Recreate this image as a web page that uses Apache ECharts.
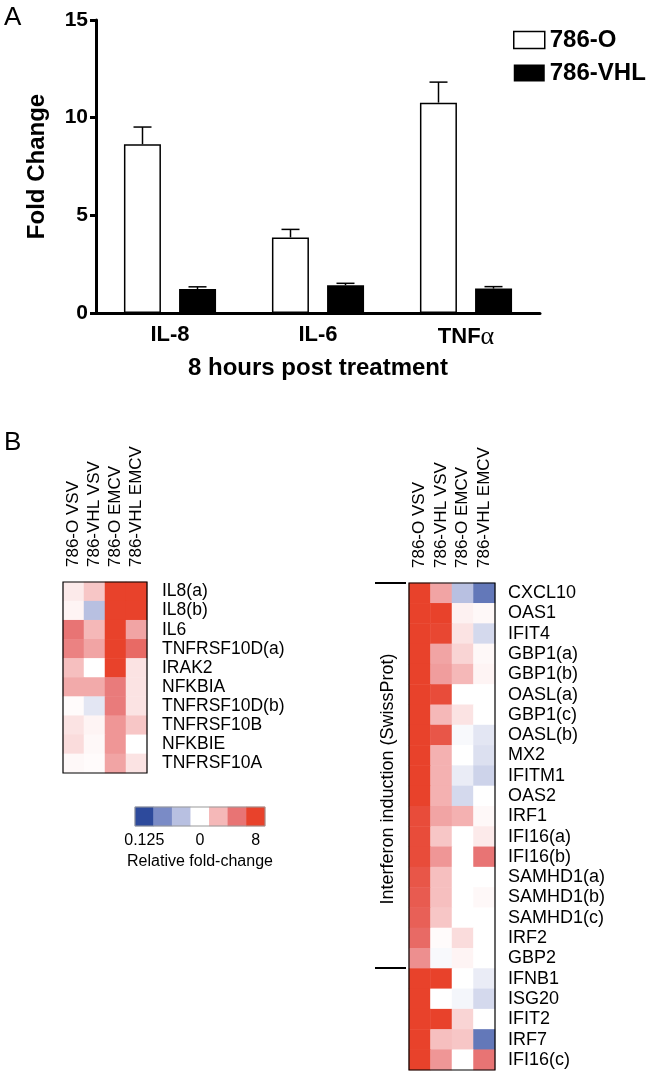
<!DOCTYPE html>
<html><head><meta charset="utf-8">
<script src="https://cdn.jsdelivr.net/npm/echarts@6/dist/echarts.min.js"></script>
<style>html,body{margin:0;padding:0;background:#fff}#c{width:650px;height:1074px}</style>
</head><body><div id="c"></div>
<script>
// ---- Panel A data ----
const barCategories = ['IL-8', 'IL-6', 'TNFα'];
const series786O = [8.64, 3.87, 10.77];
const err786O = [9.52, 4.28, 11.82];
const series786VHL = [1.23, 1.42, 1.25];
const err786VHL = [1.34, 1.52, 1.35];
const yTicks = [0, 5, 10, 15];

// ---- Panel B data (log2 relative fold-change, -3 = 0.125, 3 = 8) ----
const heatColumns = ['786-O VSV', '786-VHL VSV', '786-O EMCV', '786-VHL EMCV'];
const leftGenes = ['IL8(a)', 'IL8(b)', 'IL6', 'TNFRSF10D(a)', 'IRAK2', 'NFKBIA', 'TNFRSF10D(b)', 'TNFRSF10B', 'NFKBIE', 'TNFRSF10A'];
const leftValues = [
  [0.3, 0.8, 3, 3],
  [0.15, -1.0, 3, 3],
  [2.0, 1.0, 3, 1.3],
  [1.8, 1.3, 3, 2.2],
  [0.9, 0, 3, 0.4],
  [1.2, 1.2, 1.9, 0.4],
  [0.05, -0.4, 1.9, 0.4],
  [0.4, 0.15, 1.5, 0.8],
  [0.5, 0.1, 1.5, 0],
  [0.1, 0.05, 1.3, 0.4]
];
const rightGenes = ['CXCL10', 'OAS1', 'IFIT4', 'GBP1(a)', 'GBP1(b)', 'OASL(a)', 'GBP1(c)', 'OASL(b)', 'MX2', 'IFITM1', 'OAS2', 'IRF1', 'IFI16(a)', 'IFI16(b)', 'SAMHD1(a)', 'SAMHD1(b)', 'SAMHD1(c)', 'IRF2', 'GBP2', 'IFNB1', 'ISG20', 'IFIT2', 'IRF7', 'IFI16(c)'];
const rightValues = [
  [3, 1.3, -1.0, -2.3],
  [3, 3, 0.2, 0.1],
  [3, 2.9, 0.4, -0.6],
  [3, 1.3, 0.6, 0.1],
  [3, 1.4, 1.0, 0.15],
  [3, 2.8, 0, 0],
  [3, 1.0, 0.4, 0],
  [3, 2.6, -0.1, -0.4],
  [3, 1.1, 0, -0.5],
  [3, 1.1, -0.3, -0.7],
  [3, 1.1, -0.6, 0],
  [2.8, 1.3, 1.1, 0.1],
  [2.8, 0.8, 0, 0.3],
  [2.8, 1.5, 0, 2.0],
  [2.6, 0.9, 0, 0],
  [2.5, 0.9, 0, 0.1],
  [2.4, 0.8, 0, 0],
  [2.2, 0.05, 0.5, 0],
  [1.6, -0.1, 0.15, 0],
  [3, 3, 0, -0.3],
  [3, 0, -0.15, -0.6],
  [3, 3, 0.6, 0],
  [3, 0.9, 0.8, -2.3],
  [3, 1.5, 0, 2.0]
];
const scaleLabels = ['0.125', '', '', '0', '', '', '8'];
const scaleValues = [-3, -2, -1, 0, 1, 2, 3];
const bracketLabel = 'Interferon induction (SwissProt)';

function toCells(values) {
  const out = [];
  values.forEach((row, r) => row.forEach((v, c) => out.push([c, r, v])));
  return out;
}

const FONT = '"Liberation Sans", Arial, Helvetica, sans-serif';
const chart = echarts.init(document.getElementById('c'), null, { renderer: 'canvas' });

const errData = [];
series786O.forEach((v, i) => errData.push([i, v, err786O[i], -1]));
series786VHL.forEach((v, i) => errData.push([i, v, err786VHL[i], 1]));

const option = {
  backgroundColor: '#fff',
  animation: false,
  textStyle: { fontFamily: FONT, color: '#000' },
  legend: {
    orient: 'vertical', left: 508, top: 23, itemWidth: 31, itemHeight: 17, itemGap: 9,
    textStyle: { fontSize: 24, fontWeight: 'bold', color: '#000', fontFamily: FONT },
    data: [
      { name: '786-O', icon: 'rect', itemStyle: { color: '#fff', borderColor: '#000', borderWidth: 1.5 } },
      { name: '786-VHL', icon: 'rect', itemStyle: { color: '#000' } }
    ]
  },
  grid: [
    { left: 96, top: 20, width: 444, height: 293 },
    { left: 63, top: 582, width: 84, height: 191, show: true, borderColor: '#000', borderWidth: 1.2, z: 10 },
    { left: 135, top: 807, width: 130, height: 19, show: true, borderColor: '#999', borderWidth: 1, z: 10 },
    { left: 409, top: 583, width: 86, height: 487, show: true, borderColor: '#000', borderWidth: 1.2, z: 10 }
  ],
  xAxis: [
    {
      gridIndex: 0, type: 'category', data: barCategories,
      axisLine: { lineStyle: { color: '#000', width: 3 } },
      axisTick: { alignWithLabel: true, length: 7, lineStyle: { color: '#000', width: 3 } },
      axisLabel: {
        fontSize: 22, fontWeight: 'bold', color: '#000', margin: 11,
        formatter: v => v.replace('α', '{a|α}'),
        rich: { a: { fontSize: 26, fontWeight: 'normal', fontFamily: '"Liberation Serif", serif', color: '#000' } }
      },
      name: '8 hours post treatment', nameLocation: 'middle', nameGap: 43,
      nameTextStyle: { fontSize: 24, fontWeight: 'bold', color: '#000' }
    },
    {
      gridIndex: 1, type: 'category', data: heatColumns, position: 'top',
      axisLine: { show: false }, axisTick: { show: false }, splitArea: { show: false },
      axisLabel: { rotate: -90, fontSize: 17, color: '#000', margin: 15, interval: 0 }
    },
    {
      gridIndex: 2, type: 'category', data: scaleLabels,
      axisLine: { show: false }, axisTick: { show: false },
      axisLabel: { fontSize: 16, color: '#000', margin: 7, interval: 0 },
      name: 'Relative fold-change', nameLocation: 'middle', nameGap: 28,
      nameTextStyle: { fontSize: 16, color: '#000' }
    },
    {
      gridIndex: 3, type: 'category', data: heatColumns, position: 'top',
      axisLine: { show: false }, axisTick: { show: false }, splitArea: { show: false },
      axisLabel: { rotate: -90, fontSize: 17, color: '#000', margin: 15, interval: 0 }
    }
  ],
  yAxis: [
    {
      gridIndex: 0, type: 'value', min: yTicks[0], max: yTicks[yTicks.length - 1], interval: 5,
      axisLine: { show: true, lineStyle: { color: '#000', width: 3 } },
      axisTick: { show: true, length: 6, lineStyle: { color: '#000', width: 3 } },
      splitLine: { show: false },
      axisLabel: { fontSize: 21, fontWeight: 'bold', color: '#000', margin: 8 },
      name: 'Fold Change', nameLocation: 'middle', nameGap: 47,
      nameTextStyle: { fontSize: 24, fontWeight: 'bold', color: '#000' }
    },
    {
      gridIndex: 1, type: 'category', data: leftGenes, inverse: true, position: 'right',
      axisLine: { show: false }, axisTick: { show: false }, splitArea: { show: false },
      axisLabel: { fontSize: 17.5, color: '#000', margin: 15, interval: 0 }
    },
    { gridIndex: 2, type: 'category', data: [''], show: false },
    {
      gridIndex: 3, type: 'category', data: rightGenes, inverse: true, position: 'right',
      axisLine: { show: false }, axisTick: { show: false }, splitArea: { show: false },
      axisLabel: { fontSize: 18, color: '#000', margin: 13, interval: 0 }
    }
  ],
  visualMap: {
    type: 'continuous', show: false, min: -3, max: 3, seriesIndex: [3, 4, 5],
    inRange: { color: ['#2d4a9c', '#7a8bc6', '#b8c0e1', '#ffffff', '#f5b8b8', '#e87474', '#e8422b'] }
  },
  series: [
    {
      name: '786-O', type: 'bar', xAxisIndex: 0, yAxisIndex: 0, data: series786O,
      barWidth: 37, barGap: '49%',
      itemStyle: { color: '#fff', borderColor: '#000', borderWidth: 1.5 }
    },
    {
      name: '786-VHL', type: 'bar', xAxisIndex: 0, yAxisIndex: 0, data: series786VHL,
      barWidth: 37, barGap: '49%',
      itemStyle: { color: '#000' }
    },
    {
      type: 'custom', xAxisIndex: 0, yAxisIndex: 0, data: errData, z: 5,
      encode: { x: 0, y: [1, 2] },
      renderItem: function (params, api) {
        const ci = api.value(0);
        const sign = api.value(3);
        const base = api.coord([ci, api.value(1)]);
        const top = api.coord([ci, api.value(2)]);
        const x = base[0] + sign * 27.5;
        const cap = 9;
        return {
          type: 'group', children: [
            { type: 'line', shape: { x1: x, y1: base[1], x2: x, y2: top[1] }, style: { stroke: '#000', lineWidth: 1.5 } },
            { type: 'line', shape: { x1: x - cap, y1: top[1], x2: x + cap, y2: top[1] }, style: { stroke: '#000', lineWidth: 1.5 } }
          ]
        };
      }
    },
    { type: 'heatmap', xAxisIndex: 1, yAxisIndex: 1, data: toCells(leftValues) },
    { type: 'heatmap', xAxisIndex: 3, yAxisIndex: 3, data: toCells(rightValues) },
    { type: 'heatmap', xAxisIndex: 2, yAxisIndex: 2, data: scaleValues.map((v, i) => [i, 0, v]) }
  ],
  graphic: [
    { type: 'text', left: 4, top: 5, style: { text: 'A', font: '26px ' + FONT, fill: '#000' } },
    { type: 'text', left: 4, top: 430, style: { text: 'B', font: '26px ' + FONT, fill: '#000' } },
    { type: 'line', shape: { x1: 375, y1: 583, x2: 406, y2: 583 }, style: { stroke: '#000', lineWidth: 2 } },
    { type: 'line', shape: { x1: 375, y1: 968, x2: 406, y2: 968 }, style: { stroke: '#000', lineWidth: 2 } },
    {
      type: 'text', x: 388, y: 779, rotation: Math.PI / 2,
      style: { text: bracketLabel, font: '18px ' + FONT, fill: '#000', textAlign: 'center', textVerticalAlign: 'middle' }
    }
  ]
};
chart.setOption(option);
</script>
</body></html>
